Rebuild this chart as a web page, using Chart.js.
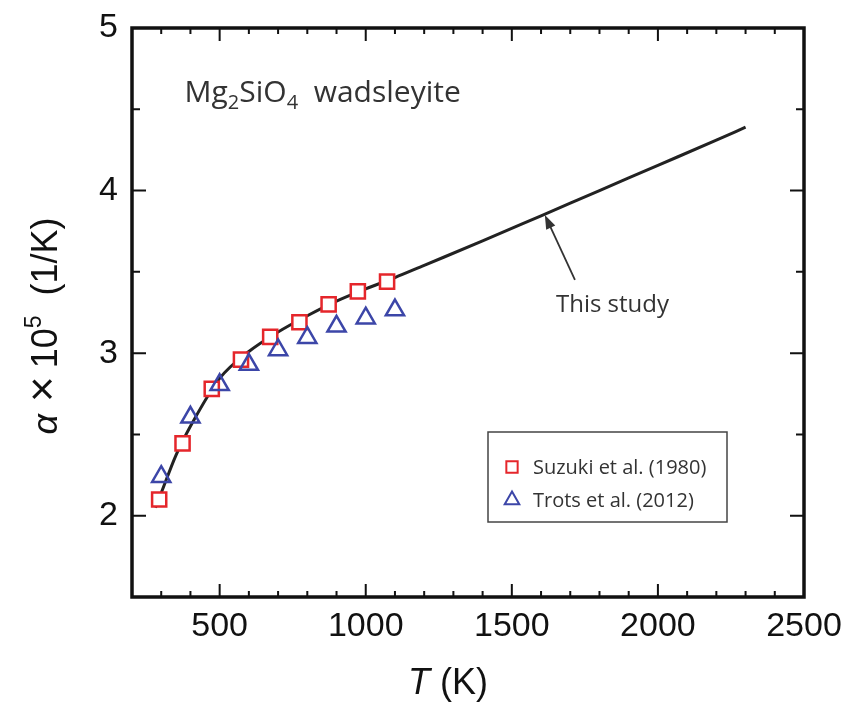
<!DOCTYPE html>
<html>
<head>
<meta charset="utf-8">
<script src="https://cdn.jsdelivr.net/npm/chart.js@4.4.1/dist/chart.umd.min.js"></script>
<style>
  html, body { margin: 0; padding: 0; background: #fff; }
</style>
</head>
<body>
<canvas id="alphaChart" width="846" height="702"></canvas>
<script>
// Suzuki et al. (1980)
const suzukiT = [293, 373, 473, 573, 673, 773, 873, 973, 1073];
const suzukiAlpha = [2.10, 2.445, 2.78, 2.96, 3.10, 3.19, 3.30, 3.38, 3.44];
// Trots et al. (2012)
const trotsT = [300, 400, 500, 600, 700, 800, 900, 1000, 1100];
const trotsAlpha = [2.24, 2.605, 2.805, 2.93, 3.02, 3.095, 3.165, 3.215, 3.265];
// This study (curva ajustada)
const fitT = [280, 300, 350, 400, 500, 600, 700, 800, 900, 1000, 1100, 1200, 1400, 1600, 1800, 2000, 2200, 2300];
const fitAlpha = [2.05, 2.14, 2.37, 2.55, 2.845, 3.01, 3.13, 3.23, 3.32, 3.395, 3.465, 3.54, 3.69, 3.845, 4.0, 4.155, 4.31, 4.39];

// ejes
const xTicks = [500, 1000, 1500, 2000, 2500];
const yTicks = [2, 3, 4, 5];

const RED = '#e5262b';
const BLUE = '#3c46a8';
const TICK_FONT = "'Liberation Sans', Arial, sans-serif";
const TEXT_FONT = "'Open Sans', 'Noto Sans', sans-serif";

function toPoints(xs, ys) {
    return xs.map((v, i) => ({ x: v, y: ys[i] }));
}

// trozos de texto seguidos (subíndices / superíndices)
function runsWidth(ctx, runs) {
    let w = 0;
    runs.forEach(r => { ctx.font = r.font; w += (r.gap || 0) + ctx.measureText(r.text).width; });
    return w;
}
function drawRuns(ctx, runs, x, y) {
    runs.forEach(r => {
        x += r.gap || 0;
        ctx.font = r.font;
        ctx.fillText(r.text, x, y + (r.dy || 0));
        x += ctx.measureText(r.text).width;
    });
}

// marco, ticks hacia dentro, textos y leyenda
const decorations = {
    id: 'decorations',
    afterDraw(chart) {
        const { ctx, chartArea: a, scales: { x, y } } = chart;
        ctx.save();

        // ticks menores y mayores en los cuatro lados
        ctx.strokeStyle = '#111';
        ctx.lineWidth = 2;
        ctx.beginPath();
        for (let t = 300; t < 2500; t += 100) {
            const px = x.getPixelForValue(t);
            const len = xTicks.includes(t) ? 13 : 6;
            ctx.moveTo(px, a.bottom); ctx.lineTo(px, a.bottom - len);
            ctx.moveTo(px, a.top); ctx.lineTo(px, a.top + len);
        }
        for (let v = 2; v < 5; v += 0.5) {
            const py = y.getPixelForValue(v);
            const len = yTicks.includes(v) ? 14 : 8;
            ctx.moveTo(a.left, py); ctx.lineTo(a.left + len, py);
            ctx.moveTo(a.right, py); ctx.lineTo(a.right - len, py);
        }
        ctx.stroke();

        // marco
        ctx.lineWidth = 3.5;
        ctx.strokeRect(a.left, a.top, a.right - a.left, a.bottom - a.top);

        // título dentro del gráfico
        ctx.fillStyle = '#333';
        ctx.textBaseline = 'alphabetic';
        ctx.textAlign = 'left';
        const big = '30px ' + TEXT_FONT, sub = '20px ' + TEXT_FONT;
        drawRuns(ctx, [
            { text: 'Mg', font: big }, { text: '2', font: sub, dy: 7 },
            { text: 'SiO', font: big }, { text: '4', font: sub, dy: 7 },
            { text: '  wadsleyite', font: big }
        ], x.getPixelForValue(380), y.getPixelForValue(4.545));

        // "This study" con flecha
        ctx.font = '24px ' + TEXT_FONT;
        ctx.fillText('This study', x.getPixelForValue(1651), y.getPixelForValue(3.253));
        const x0 = x.getPixelForValue(1716), y0 = y.getPixelForValue(3.45);
        const x1 = x.getPixelForValue(1613), y1 = y.getPixelForValue(3.85);
        const ang = Math.atan2(y1 - y0, x1 - x0);
        ctx.strokeStyle = '#333';
        ctx.lineWidth = 1.8;
        ctx.beginPath();
        ctx.moveTo(x0, y0);
        ctx.lineTo(x1 - 8 * Math.cos(ang), y1 - 8 * Math.sin(ang));
        ctx.stroke();
        ctx.beginPath();
        ctx.moveTo(x1, y1);
        ctx.lineTo(x1 - 14 * Math.cos(ang) + 5 * Math.sin(ang), y1 - 14 * Math.sin(ang) - 5 * Math.cos(ang));
        ctx.lineTo(x1 - 14 * Math.cos(ang) - 5 * Math.sin(ang), y1 - 14 * Math.sin(ang) + 5 * Math.cos(ang));
        ctx.closePath();
        ctx.fillStyle = '#333';
        ctx.fill();

        // leyenda
        const lx = 488, ly = 432, lw = 239, lh = 90;
        ctx.strokeStyle = '#444';
        ctx.lineWidth = 1.5;
        ctx.strokeRect(lx, ly, lw, lh);
        const rows = [
            { ds: chart.data.datasets[1], label: 'Suzuki et al. (1980)', cy: ly + 35 },
            { ds: chart.data.datasets[0], label: 'Trots et al. (2012)', cy: ly + 68 }
        ];
        ctx.textBaseline = 'middle';
        rows.forEach(r => {
            ctx.fillStyle = '#fff';
            ctx.strokeStyle = r.ds.borderColor;
            ctx.lineWidth = 2;
            Chart.helpers.drawPoint(ctx, {
                pointStyle: r.ds.pointStyle, radius: r.ds.pointRadius * 0.8, rotation: 0,
                borderWidth: 2
            }, lx + 24, r.cy);
            ctx.fillStyle = '#333';
            ctx.font = '20px ' + TEXT_FONT;
            ctx.fillText(r.label, lx + 45, r.cy + 1);
        });

        // títulos de ejes
        ctx.fillStyle = '#111';
        ctx.textBaseline = 'alphabetic';
        const af = '36px ' + TICK_FONT, ai = 'italic 36px ' + TICK_FONT;
        const xRuns = [{ text: 'T', font: ai }, { text: ' (K)', font: af }];
        drawRuns(ctx, xRuns, 448 - runsWidth(ctx, xRuns) / 2, 694);

        const yRuns = [
            { text: 'α', font: 'italic 36px ' + TICK_FONT },
            { text: '×', font: '44px ' + TICK_FONT, gap: 12 },
            { text: '10', font: '36px ' + TICK_FONT, gap: 8 },
            { text: '5', font: '23px ' + TICK_FONT, dy: -16 },
            { text: '(1/K)', font: '36px ' + TICK_FONT, gap: 20 }
        ];
        ctx.translate(57, 326);
        ctx.rotate(-Math.PI / 2);
        drawRuns(ctx, yRuns, -runsWidth(ctx, yRuns) / 2, 0);
        ctx.restore();
    }
};

const ctx = document.getElementById('alphaChart').getContext('2d');
new Chart(ctx, {
    type: 'scatter',
    data: {
        datasets: [
            {
                label: 'Trots et al. (2012)',
                data: toPoints(trotsT, trotsAlpha),
                pointStyle: 'triangle',
                pointRadius: 10.5,
                borderWidth: 2.5,
                borderColor: BLUE,
                backgroundColor: 'rgba(255,255,255,0)'
            },
            {
                label: 'Suzuki et al. (1980)',
                data: toPoints(suzukiT, suzukiAlpha),
                pointStyle: 'rect',
                pointRadius: 10,
                borderWidth: 2.5,
                borderColor: RED,
                backgroundColor: '#fff'
            },
            {
                type: 'line',
                label: 'This study',
                data: toPoints(fitT, fitAlpha),
                borderColor: '#222',
                borderWidth: 3,
                pointRadius: 0,
                cubicInterpolationMode: 'monotone',
                fill: false
            }
        ]
    },
    options: {
        responsive: false,
        animation: false,
        events: [],
        layout: { padding: { top: 28, right: 42, left: 0, bottom: 0 } },
        plugins: {
            legend: { display: false },
            tooltip: { enabled: false }
        },
        scales: {
            x: {
                type: 'linear',
                min: 200,
                max: 2500,
                afterBuildTicks: s => { s.ticks = xTicks.map(v => ({ value: v })); },
                afterFit: s => { s.height = 105; s.paddingLeft = 0; s.paddingRight = 0; },
                grid: { display: false, drawTicks: false },
                border: { display: false },
                ticks: {
                    padding: 9,
                    color: '#111',
                    maxRotation: 0,
                    autoSkip: false,
                    font: { family: TICK_FONT, size: 34 },
                    callback: v => String(v)
                }
            },
            y: {
                type: 'linear',
                min: 1.5,
                max: 5,
                afterBuildTicks: s => { s.ticks = yTicks.map(v => ({ value: v })); },
                afterFit: s => { s.width = 132; s.paddingTop = 0; s.paddingBottom = 0; },
                grid: { display: false, drawTicks: false },
                border: { display: false },
                ticks: {
                    padding: 14,
                    color: '#111',
                    autoSkip: false,
                    font: { family: TICK_FONT, size: 34 },
                    callback: v => String(v)
                }
            }
        }
    },
    plugins: [decorations]
});
</script>
</body>
</html>
